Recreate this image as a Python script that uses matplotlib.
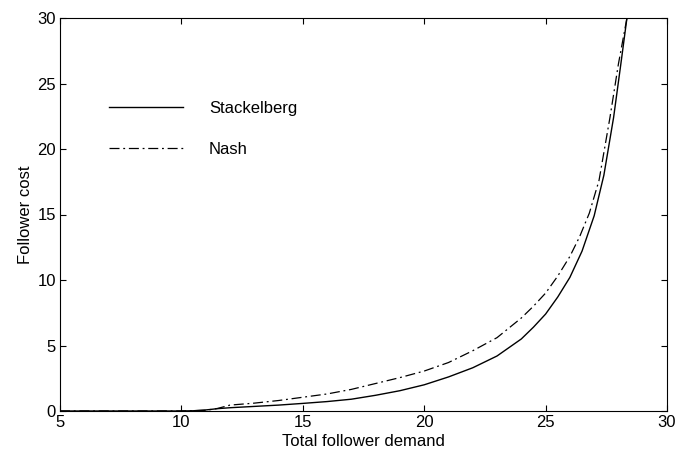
import matplotlib
matplotlib.use("Agg")
import matplotlib.pyplot as plt

plt.rcParams['font.family'] = ['Liberation Sans', 'DejaVu Sans']

stack_x = [5, 10, 10.5, 11, 11.5, 12, 13, 14, 15, 16, 17, 18, 19, 20, 21, 22, 23, 24,
           24.5, 25, 25.5, 26, 26.5, 27, 27.4, 27.8, 28.1, 28.35]
stack_y = [0, 0, 0.02, 0.08, 0.18, 0.25, 0.35, 0.45, 0.58, 0.72, 0.9, 1.2, 1.55, 2.0,
           2.6, 3.3, 4.2, 5.5, 6.4, 7.4, 8.7, 10.2, 12.2, 14.9, 18.0, 22.4, 26.5, 30]

nash_x = [5, 10, 11, 11.5, 12, 13, 14, 15, 16, 17, 18, 19, 20, 21, 22, 23, 24, 24.5,
          25, 25.5, 26, 26.4, 26.8, 27.2, 27.65, 28.0, 28.35]
nash_y = [0, 0, 0.05, 0.2, 0.45, 0.6, 0.8, 1.05, 1.3, 1.65, 2.1, 2.55, 3.05, 3.7, 4.6,
          5.6, 7.1, 8.0, 9.0, 10.3, 11.8, 13.3, 15.1, 17.6, 22.4, 26.5, 30]

x_ticks = [5, 10, 15, 20, 25, 30]
y_ticks = [0, 5, 10, 15, 20, 25, 30]

fig = plt.figure(figsize=(6.83, 4.53), dpi=100)
ax = fig.add_axes([60/683, 42/453, 607/683, 393/453])

ax.plot(stack_x, stack_y, color='black', lw=1.0, ls='-', label='Stackelberg')
ax.plot(nash_x, nash_y, color='black', lw=0.9, ls=(0, (8, 3, 1.5, 3)), label='Nash')

ax.set_xlim(5, 30)
ax.set_ylim(0, 30)
ax.set_xticks(x_ticks)
ax.set_yticks(y_ticks)
ax.tick_params(direction='in', top=True, right=True, labelsize=12, length=4, pad=3)
for s in ax.spines.values():
    s.set_linewidth(0.8)

ax.set_xlabel('Total follower demand', fontsize=12, labelpad=3)
ax.set_ylabel('Follower cost', fontsize=12, labelpad=3)

leg = ax.legend(loc='upper left', bbox_to_anchor=(49/607, 0.79), frameon=False,
                fontsize=12, handlelength=4.43, handletextpad=1.56, labelspacing=1.6,
                borderpad=0, borderaxespad=0)

fig.savefig('out.png', dpi=100)
